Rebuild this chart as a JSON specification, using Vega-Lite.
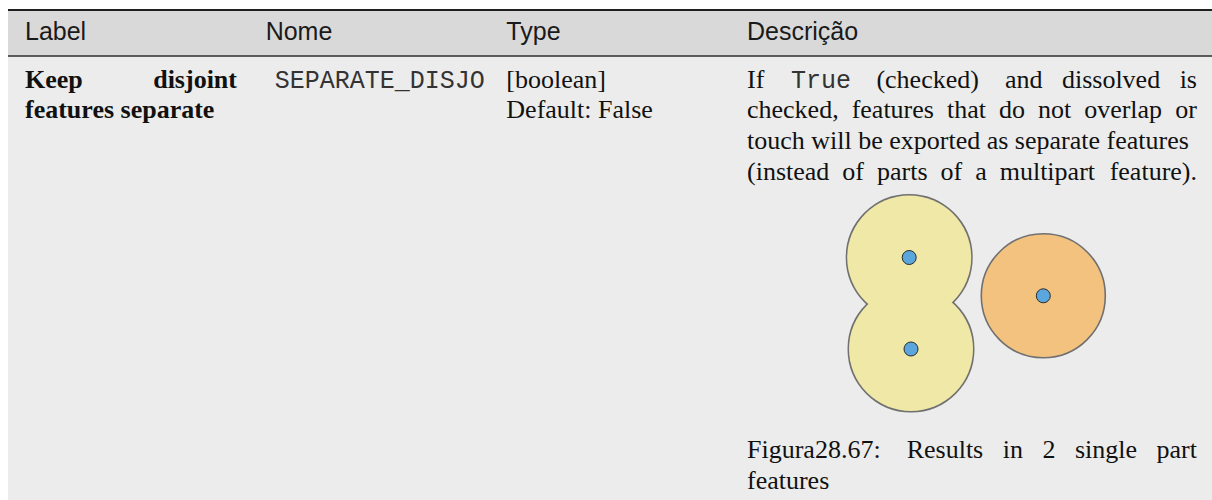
{
  "$schema": "https://vega.github.io/schema/vega-lite/v6.json",
  "width": 1212,
  "height": 500,
  "padding": 0,
  "autosize": {"type": "none"},
  "background": "#ffffff",
  "config": {"view": {"stroke": null}},
  "datasets": {
    "header": [
      {"col": "Label", "text": "Label"},
      {"col": "Nome", "text": "Nome"},
      {"col": "Type", "text": "Type"},
      {"col": "Descrição", "text": "Descrição"}
    ],
    "cells": [
      {"col": "Label", "line": 1, "seg": "start", "code": false, "text": "Keep"},
      {"col": "Label", "line": 1, "seg": "end", "code": false, "text": "disjoint"},
      {"col": "Label", "line": 2, "seg": "start", "code": false, "text": "features separate"},
      {"col": "Nome", "line": 1, "seg": "start", "code": true, "text": "SEPARATE_DISJO"},
      {"col": "Type", "line": 1, "seg": "start", "code": false, "text": "[boolean]"},
      {"col": "Type", "line": 2, "seg": "start", "code": false, "text": "Default: False"},
      {"col": "Descrição", "line": 1, "seg": "start", "code": false, "text": "If"},
      {"col": "Descrição", "line": 1, "seg": "inline", "code": true, "text": "True"},
      {"col": "Descrição", "line": 1, "seg": "end", "code": false, "text": "(checked)\u00a0\u00a0\u00a0\u00a0and\u00a0\u00a0\u00a0dissolved\u00a0\u00a0\u00a0is"},
      {"col": "Descrição", "line": 2, "seg": "start", "code": false, "text": "checked,\u00a0\u00a0features\u00a0\u00a0that\u00a0\u00a0do\u00a0\u00a0not\u00a0\u00a0overlap"},
      {"col": "Descrição", "line": 2, "seg": "end", "code": false, "text": "or"},
      {"col": "Descrição", "line": 3, "seg": "start", "code": false, "text": "touch will be exported as separate features"},
      {"col": "Descrição", "line": 4, "seg": "start", "code": false, "text": "(instead\u00a0\u00a0of\u00a0\u00a0parts\u00a0\u00a0of\u00a0\u00a0a\u00a0\u00a0multipart"},
      {"col": "Descrição", "line": 4, "seg": "end", "code": false, "text": "feature)."},
      {"col": "Descrição", "line": 13, "seg": "start", "code": false, "text": "Figura28.67:"},
      {"col": "Descrição", "line": 13, "seg": "end", "code": false, "text": "Results\u00a0\u00a0\u00a0in\u00a0\u00a0\u00a02\u00a0\u00a0\u00a0single\u00a0\u00a0\u00a0part"},
      {"col": "Descrição", "line": 14, "seg": "start", "code": false, "text": "features"}
    ],
    "points": [
      {"feature": "A", "group": "dissolved", "x": 909.2, "y": 257.5},
      {"feature": "B", "group": "dissolved", "x": 911, "y": 349},
      {"feature": "C", "group": "separate", "x": 1043.3, "y": 295.8}
    ]
  },
  "resolve": {"scale": {"x": "independent", "y": "independent"}},
  "layer": [
    {
      "data": {"values": [{"part": "body"}]},
      "mark": {"type": "rect", "fill": "#ececec"},
      "encoding": {
        "x": {"datum": 8, "type": "quantitative", "scale": {"domain": [0, 1212], "range": [0, 1212], "nice": false, "zero": false}, "axis": null},
        "x2": {"datum": 1212},
        "y": {"datum": 56, "type": "quantitative", "scale": {"domain": [0, 500], "range": [0, 500], "nice": false, "zero": false}, "axis": null},
        "y2": {"datum": 500}
      }
    },
    {
      "data": {"values": [{"part": "header"}]},
      "mark": {"type": "rect", "fill": "#d9d9d9"},
      "encoding": {
        "x": {"datum": 8, "type": "quantitative", "scale": {"domain": [0, 1212], "range": [0, 1212], "nice": false, "zero": false}, "axis": null},
        "x2": {"datum": 1212},
        "y": {"datum": 10, "type": "quantitative", "scale": {"domain": [0, 500], "range": [0, 500], "nice": false, "zero": false}, "axis": null},
        "y2": {"datum": 56}
      }
    },
    {
      "data": {"values": [{"part": "top border"}]},
      "mark": {"type": "rule", "stroke": "#1f1f1f", "strokeWidth": 2},
      "encoding": {
        "x": {"datum": 8, "type": "quantitative", "scale": {"domain": [0, 1212], "range": [0, 1212], "nice": false, "zero": false}, "axis": null},
        "x2": {"datum": 1212},
        "y": {"datum": 10, "type": "quantitative", "scale": {"domain": [0, 500], "range": [0, 500], "nice": false, "zero": false}, "axis": null}
      }
    },
    {
      "data": {"values": [{"part": "header border"}]},
      "mark": {"type": "rule", "stroke": "#2e2e2e", "strokeWidth": 1.5},
      "encoding": {
        "x": {"datum": 8, "type": "quantitative", "scale": {"domain": [0, 1212], "range": [0, 1212], "nice": false, "zero": false}, "axis": null},
        "x2": {"datum": 1212},
        "y": {"datum": 56, "type": "quantitative", "scale": {"domain": [0, 500], "range": [0, 500], "nice": false, "zero": false}, "axis": null}
      }
    },
    {
      "data": {"name": "header"},
      "mark": {"type": "text", "font": "Liberation Sans", "fontSize": 25, "fill": "#1a1a1a", "align": "left", "baseline": "alphabetic"},
      "encoding": {
        "x": {"field": "col", "type": "nominal", "scale": {"type": "point", "domain": ["Label", "Nome", "Type", "Descrição"], "range": [25, 747], "padding": 0}, "axis": null},
        "y": {"datum": 40, "type": "quantitative", "scale": {"domain": [0, 500], "range": [0, 500], "nice": false, "zero": false}, "axis": null},
        "text": {"field": "text"}
      }
    },
    {
      "data": {"name": "cells"},
      "transform": [{"filter": "datum.col !== 'Label' && datum.seg === 'start' && !datum.code"}],
      "mark": {"type": "text", "font": "Liberation Serif", "fontSize": 26, "fill": "#111111", "align": "left", "baseline": "alphabetic"},
      "encoding": {
        "x": {"field": "col", "type": "nominal", "scale": {"type": "point", "domain": ["Label", "Nome", "Type", "Descrição"], "range": [25, 747], "padding": 0}, "axis": null},
        "y": {"field": "line", "type": "quantitative", "scale": {"domain": [1, 14], "range": [87.5, 489], "nice": false, "zero": false}, "axis": null},
        "text": {"field": "text"}
      }
    },
    {
      "data": {"name": "cells"},
      "transform": [{"filter": "datum.col !== 'Label' && datum.seg === 'end' && !datum.code"}],
      "mark": {"type": "text", "font": "Liberation Serif", "fontSize": 26, "fill": "#111111", "align": "right", "baseline": "alphabetic"},
      "encoding": {
        "x": {"field": "col", "type": "nominal", "scale": {"type": "point", "domain": ["Label", "Nome", "Type", "Descrição"], "range": [237, 1197], "padding": 0}, "axis": null},
        "y": {"field": "line", "type": "quantitative", "scale": {"domain": [1, 14], "range": [87.5, 489], "nice": false, "zero": false}, "axis": null},
        "text": {"field": "text"}
      }
    },
    {
      "data": {"name": "cells"},
      "transform": [{"filter": "datum.col === 'Label' && datum.seg === 'start'"}],
      "mark": {"type": "text", "font": "Liberation Serif", "fontSize": 26, "fontWeight": "bold", "fill": "#111111", "align": "left", "baseline": "alphabetic"},
      "encoding": {
        "x": {"field": "col", "type": "nominal", "scale": {"type": "point", "domain": ["Label", "Nome", "Type", "Descrição"], "range": [25, 747], "padding": 0}, "axis": null},
        "y": {"field": "line", "type": "quantitative", "scale": {"domain": [1, 14], "range": [87.5, 489], "nice": false, "zero": false}, "axis": null},
        "text": {"field": "text"}
      }
    },
    {
      "data": {"name": "cells"},
      "transform": [{"filter": "datum.col === 'Label' && datum.seg === 'end'"}],
      "mark": {"type": "text", "font": "Liberation Serif", "fontSize": 26, "fontWeight": "bold", "fill": "#111111", "align": "right", "baseline": "alphabetic"},
      "encoding": {
        "x": {"field": "col", "type": "nominal", "scale": {"type": "point", "domain": ["Label", "Nome", "Type", "Descrição"], "range": [237, 1197], "padding": 0}, "axis": null},
        "y": {"field": "line", "type": "quantitative", "scale": {"domain": [1, 14], "range": [87.5, 489], "nice": false, "zero": false}, "axis": null},
        "text": {"field": "text"}
      }
    },
    {
      "data": {"name": "cells"},
      "transform": [{"filter": "datum.code && datum.seg === 'start'"}],
      "mark": {"type": "text", "font": "Liberation Mono", "fontSize": 25, "fill": "#333333", "align": "left", "baseline": "alphabetic", "dx": 9},
      "encoding": {
        "x": {"field": "col", "type": "nominal", "scale": {"type": "point", "domain": ["Label", "Nome", "Type", "Descrição"], "range": [25, 747], "padding": 0}, "axis": null},
        "y": {"field": "line", "type": "quantitative", "scale": {"domain": [1, 14], "range": [87.5, 489], "nice": false, "zero": false}, "axis": null},
        "text": {"field": "text"}
      }
    },
    {
      "data": {"name": "cells"},
      "transform": [{"filter": "datum.code && datum.seg === 'inline'"}],
      "mark": {"type": "text", "font": "Liberation Mono", "fontSize": 25, "fill": "#333333", "align": "left", "baseline": "alphabetic", "dx": 44},
      "encoding": {
        "x": {"field": "col", "type": "nominal", "scale": {"type": "point", "domain": ["Label", "Nome", "Type", "Descrição"], "range": [25, 747], "padding": 0}, "axis": null},
        "y": {"field": "line", "type": "quantitative", "scale": {"domain": [1, 14], "range": [87.5, 489], "nice": false, "zero": false}, "axis": null},
        "text": {"field": "text"}
      }
    },
    {
      "data": {"name": "points"},
      "transform": [{"filter": "datum.group === 'dissolved'"}],
      "mark": {"type": "point", "shape": "circle", "filled": true, "opacity": 1, "size": 15376, "fill": "#efe8a6", "stroke": "#707070", "strokeWidth": 3},
      "encoding": {
        "x": {"field": "x", "type": "quantitative", "scale": {"domain": [0, 1212], "range": [0, 1212], "nice": false, "zero": false}, "axis": null},
        "y": {"field": "y", "type": "quantitative", "scale": {"domain": [0, 500], "range": [0, 500], "nice": false, "zero": false}, "axis": null}
      }
    },
    {
      "data": {"name": "points"},
      "transform": [{"filter": "datum.group === 'dissolved'"}],
      "mark": {"type": "point", "shape": "circle", "filled": true, "opacity": 1, "size": 15376, "fill": "#efe8a6", "strokeWidth": 0},
      "encoding": {
        "x": {"field": "x", "type": "quantitative", "scale": {"domain": [0, 1212], "range": [0, 1212], "nice": false, "zero": false}, "axis": null},
        "y": {"field": "y", "type": "quantitative", "scale": {"domain": [0, 500], "range": [0, 500], "nice": false, "zero": false}, "axis": null}
      }
    },
    {
      "data": {"name": "points"},
      "transform": [{"filter": "datum.group === 'separate'"}],
      "mark": {"type": "point", "shape": "circle", "filled": true, "opacity": 1, "size": 15376, "fill": "#f3c27f", "stroke": "#707070", "strokeWidth": 1.6},
      "encoding": {
        "x": {"field": "x", "type": "quantitative", "scale": {"domain": [0, 1212], "range": [0, 1212], "nice": false, "zero": false}, "axis": null},
        "y": {"field": "y", "type": "quantitative", "scale": {"domain": [0, 500], "range": [0, 500], "nice": false, "zero": false}, "axis": null}
      }
    },
    {
      "data": {"name": "points"},
      "mark": {"type": "point", "shape": "circle", "filled": true, "opacity": 1, "size": 196, "fill": "#5ba6dc", "stroke": "#2a2a2a", "strokeWidth": 1},
      "encoding": {
        "x": {"field": "x", "type": "quantitative", "scale": {"domain": [0, 1212], "range": [0, 1212], "nice": false, "zero": false}, "axis": null},
        "y": {"field": "y", "type": "quantitative", "scale": {"domain": [0, 500], "range": [0, 500], "nice": false, "zero": false}, "axis": null}
      }
    }
  ]
}
